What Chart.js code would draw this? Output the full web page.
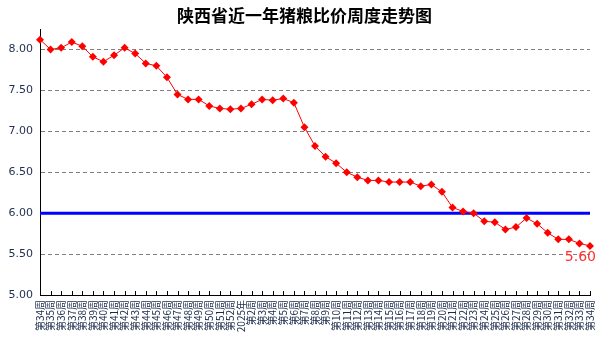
<!DOCTYPE html>
<html>
<head>
<meta charset="utf-8">
<script src="https://cdn.jsdelivr.net/npm/chart.js@4/dist/chart.umd.min.js"></script>
<style>
  body { margin: 0; background: #fff; }
  #box { width: 607px; height: 344px; }
</style>
</head>
<body>
<div id="box"><canvas id="chart" width="607" height="344"></canvas></div>
<script>
const chartTitle = '陕西省近一年猪粮比价周度走势图';

// week labels, one per point
const weeks = [
  '第34周', '第35周', '第36周', '第37周', '第38周', '第39周', '第40周', '第41周',
  '第42周', '第43周', '第44周', '第45周', '第46周', '第47周', '第48周', '第49周',
  '第50周', '第51周', '第52周', '2025年', '第2周', '第3周', '第4周', '第5周',
  '第6周', '第7周', '第8周', '第9周', '第10周', '第11周', '第12周', '第13周',
  '第14周', '第15周', '第16周', '第17周', '第18周', '第19周', '第20周', '第21周',
  '第22周', '第23周', '第24周', '第25周', '第26周', '第27周', '第28周', '第29周',
  '第30周', '第31周', '第32周', '第33周', '第34周'
];

// pig-grain price ratio
const ratio = [
  8.12, 8.00, 8.02, 8.09, 8.04, 7.91, 7.85, 7.93, 8.02, 7.95,
  7.83, 7.80, 7.66, 7.45, 7.39, 7.39, 7.31, 7.28, 7.27, 7.28,
  7.33, 7.39, 7.38, 7.40, 7.35, 7.05, 6.82, 6.69, 6.61, 6.50,
  6.44, 6.40, 6.40, 6.38, 6.38, 6.38, 6.33, 6.35, 6.26, 6.07,
  6.02, 6.00, 5.90, 5.89, 5.80, 5.83, 5.94, 5.87, 5.76, 5.68,
  5.68, 5.63, 5.60
];

// break-even line
const breakEven = 6.00;
const yTicks = [5.00, 5.50, 6.00, 6.50, 7.00, 7.50, 8.00];

// title, small upward ticks on the x axis and the last value label
const extras = {
  id: 'extras',
  afterDatasetsDraw(chart) {
    const ctx = chart.ctx;
    const x = chart.scales.x;
    const bottom = chart.chartArea.bottom;
    ctx.save();

    ctx.fillStyle = '#000';
    ctx.font = 'bold 17px "Noto Sans CJK SC", sans-serif';
    ctx.textAlign = 'center';
    ctx.textBaseline = 'middle';
    ctx.fillText(chartTitle, chart.width / 2 + 1, 16);

    ctx.strokeStyle = '#000';
    ctx.lineWidth = 1;
    ctx.beginPath();
    for (let i = 0; i < weeks.length; i++) {
      const px = Math.round(x.getPixelForValue(i)) + 0.5;
      ctx.moveTo(px, bottom);
      ctx.lineTo(px, bottom - 4);
    }
    ctx.stroke();

    const meta = chart.getDatasetMeta(0);
    const last = meta.data[meta.data.length - 1];
    ctx.fillStyle = '#ff3030';
    ctx.font = '14px "DejaVu Sans", sans-serif';
    ctx.textAlign = 'right';
    ctx.textBaseline = 'top';
    ctx.fillText(ratio[ratio.length - 1].toFixed(2), last.x + 6, last.y + 4);
    ctx.restore();
  }
};

new Chart(document.querySelector('#chart'), {
  type: 'line',
  data: {
    labels: weeks,
    datasets: [{
      data: ratio,
      borderColor: '#ff0000',
      backgroundColor: '#ff0000',
      borderWidth: 1,
      tension: 0,
      pointStyle: 'rectRot',
      pointRadius: 4,
      pointBorderWidth: 0
    }, {
      data: weeks.map(() => breakEven),
      borderColor: '#0000ff',
      borderWidth: 3,
      pointRadius: 0,
      tension: 0
    }]
  },
  options: {
    responsive: false,
    animation: false,
    layout: { padding: { left: 0, right: 14, top: 29, bottom: 0 } },
    plugins: {
      legend: { display: false },
      tooltip: { enabled: false },
      title: { display: false }
    },
    scales: {
      x: {
        offset: false,
        afterFit: s => { s.height = 49; },
        grid: { display: false, drawTicks: false },
        border: { color: '#000', width: 1 },
        ticks: {
          autoSkip: false,
          minRotation: 90,
          maxRotation: 90,
          padding: 5,
          color: '#1a2a4a',
          font: { family: '"Noto Sans CJK SC", sans-serif', size: 10 }
        }
      },
      y: {
        min: 5,
        max: 8.25,
        afterFit: s => { s.width = 40; },
        afterBuildTicks: s => { s.ticks = yTicks.map(v => ({ value: v })); },
        grid: {
          drawTicks: false,
          color: c => (c.tick && c.tick.value === 5) ? 'rgba(0,0,0,0)' : '#808080',
          lineWidth: 1
        },
        border: { color: '#000', width: 1, dash: [4, 3] },
        ticks: {
          padding: 7,
          color: '#1f2d50',
          font: { family: '"DejaVu Sans", sans-serif', size: 11 },
          callback: v => Number(v).toFixed(2)
        }
      }
    }
  },
  plugins: [extras]
});
</script>
</body>
</html>
